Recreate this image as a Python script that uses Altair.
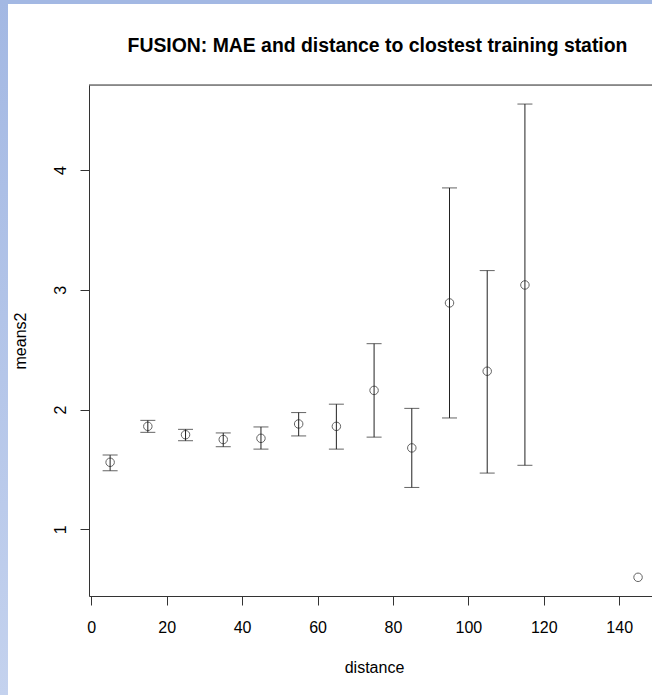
import altair as alt
import pandas as pd

# ---- data ----
distance = [5, 15, 25, 35, 45, 55, 65, 75, 85, 95, 105, 115, 145]
means2 = [1.56, 1.86, 1.79, 1.75, 1.76, 1.88, 1.86, 2.16, 1.68, 2.89, 2.32, 3.04, 0.60]
lower = [1.49, 1.81, 1.74, 1.69, 1.67, 1.78, 1.67, 1.77, 1.35, 1.93, 1.47, 1.535, None]
upper = [1.62, 1.91, 1.835, 1.805, 1.855, 1.975, 2.045, 2.55, 2.01, 3.85, 3.16, 4.55, None]

x_ticks = [0, 20, 40, 60, 80, 100, 120, 140]
y_ticks = [1, 2, 3, 4]

df = pd.DataFrame({"distance": distance, "means2": means2, "lower": lower, "upper": upper})

FONT = "Liberation Sans"
W, H = 563, 511

xscale = alt.Scale(domain=[-0.6, 148.7], nice=False, zero=False)
yscale = alt.Scale(domain=[0.444, 4.709], nice=False, zero=False)

xaxis = alt.Axis(values=x_ticks, format="d", grid=False, tickSize=9, labelPadding=14, labelFontSize=16,
                 labelFont=FONT, labelColor="#000", tickColor="#333", domainColor="#333",
                 title="distance", titleFont=FONT, titleFontSize=16, titleFontWeight="normal",
                 titleColor="#000", titleX=285, titleY=76, titleBaseline="alphabetic",
                 titleAlign="center", labelFlush=False)
yaxis = alt.Axis(values=y_ticks, format="d", grid=False, tickSize=9, labelPadding=14.5, labelFontSize=16,
                 labelFont=FONT, labelColor="#000", tickColor="#333", domainColor="#333",
                 labelAngle=-90, labelAlign="center", labelBaseline="alphabetic",
                 title="means2", titleFont=FONT, titleFontSize=16, titleFontWeight="normal",
                 titleColor="#000", titleX=-64, titleY=255.5, titleAngle=-90,
                 titleBaseline="alphabetic", titleAlign="center", labelFlush=False)

base = alt.Chart(df)

bars = base.transform_filter("isValid(datum.lower)").mark_rule(color="#222", strokeWidth=1).encode(
    x=alt.X("distance:Q", scale=xscale, axis=xaxis),
    y=alt.Y("lower:Q", scale=yscale, axis=yaxis),
    y2="upper:Q",
)
cap_lo = base.transform_filter("isValid(datum.lower)").mark_tick(
    color="#222", orient="horizontal", size=15, thickness=1).encode(
    x=alt.X("distance:Q", scale=xscale), y=alt.Y("lower:Q", scale=yscale))
cap_hi = base.transform_filter("isValid(datum.upper)").mark_tick(
    color="#222", orient="horizontal", size=15, thickness=1).encode(
    x=alt.X("distance:Q", scale=xscale), y=alt.Y("upper:Q", scale=yscale))
pts = base.mark_point(shape="circle", size=72, filled=False, color="#222", strokeWidth=1).encode(
    x=alt.X("distance:Q", scale=xscale), y=alt.Y("means2:Q", scale=yscale))

one = alt.Data(values=[{"k": 0}])
# frame top line
top_line = alt.Chart(one).mark_rule(color="#333", strokeWidth=1).encode(
    x=alt.value(0), x2=alt.value(W), y=alt.value(0))
# page decoration: blue band on left and top
left_band = alt.Chart(one).mark_rect(
    color=alt.Gradient(gradient="linear", x1=0, x2=0, y1=0, y2=1,
                       stops=[alt.GradientStop(color="#a3b8e3", offset=0),
                              alt.GradientStop(color="#c4d2ee", offset=1)])).encode(
    x=alt.value(-89), x2=alt.value(-81), y=alt.value(-85), y2=alt.value(H + 99))
top_band = alt.Chart(one).mark_rect(color="#a3b8e3").encode(
    x=alt.value(-89), x2=alt.value(W), y=alt.value(-85), y2=alt.value(-81))

chart = alt.layer(left_band, top_band, top_line, bars, cap_lo, cap_hi, pts).properties(
    width=W, height=H,
    title=alt.TitleParams("FUSION: MAE and distance to clostest training station",
                          font=FONT, fontSize=19.4, fontWeight="bold", color="#000",
                          anchor="middle", frame="group", offset=-71, baseline="alphabetic", dx=7),
    autosize=alt.AutoSizeParams(type="none"),
    padding={"left": 89, "top": 85, "right": 0, "bottom": 99},
).configure_view(stroke=None).configure(background="white")

chart.save("out.html", embed_options={"renderer": "svg", "actions": False})
